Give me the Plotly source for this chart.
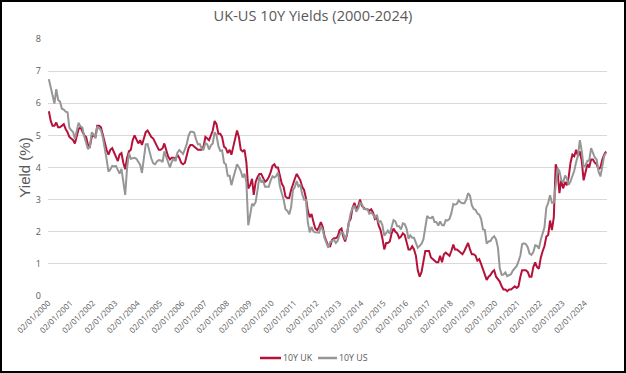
import pandas as pd
import plotly.graph_objects as go

# Monthly 10Y yields (%), Jan 2000 - Dec 2024
uk_10y = [
    5.75, 5.45, 5.30, 5.30, 5.40, 5.25, 5.25, 5.30, 5.35, 5.20, 5.10, 4.95,  # 2000
    4.90, 4.85, 4.75, 5.00, 5.20, 5.25, 5.15, 5.00, 4.95, 4.70, 4.65, 4.95,  # 2001
    5.00, 4.95, 5.30, 5.30, 5.25, 5.00, 4.85, 4.55, 4.40, 4.55, 4.60, 4.45,  # 2002
    4.30, 4.20, 4.40, 4.45, 4.15, 3.95, 4.30, 4.50, 4.55, 4.85, 5.00, 4.85,  # 2003
    4.75, 4.85, 4.70, 4.90, 5.10, 5.15, 5.05, 4.95, 4.90, 4.80, 4.65, 4.55,  # 2004
    4.55, 4.60, 4.75, 4.55, 4.35, 4.25, 4.30, 4.30, 4.25, 4.40, 4.30, 4.15,  # 2005
    4.10, 4.15, 4.35, 4.60, 4.70, 4.70, 4.65, 4.60, 4.55, 4.55, 4.55, 4.65,  # 2006
    4.95, 4.90, 4.85, 5.00, 5.15, 5.45, 5.35, 5.05, 5.05, 4.95, 4.65, 4.60,  # 2007
    4.45, 4.55, 4.40, 4.65, 4.90, 5.15, 4.95, 4.55, 4.50, 4.55, 4.15, 3.35,  # 2008
    3.45, 3.65, 3.15, 3.55, 3.70, 3.80, 3.80, 3.65, 3.55, 3.60, 3.70, 3.85,  # 2009
    4.05, 4.10, 4.00, 4.00, 3.70, 3.50, 3.40, 3.10, 3.05, 3.05, 3.30, 3.50,  # 2010
    3.65, 3.80, 3.70, 3.60, 3.40, 3.30, 3.05, 2.65, 2.45, 2.55, 2.30, 2.10,  # 2011
    2.05, 2.15, 2.30, 2.15, 1.85, 1.70, 1.55, 1.55, 1.75, 1.80, 1.80, 1.85,  # 2012
    2.05, 2.10, 1.85, 1.70, 1.90, 2.30, 2.40, 2.75, 2.90, 2.70, 2.80, 3.00,  # 2013
    2.80, 2.75, 2.70, 2.70, 2.65, 2.70, 2.60, 2.40, 2.45, 2.20, 2.05, 1.80,  # 2014
    1.45, 1.65, 1.65, 1.70, 1.95, 2.10, 2.00, 1.95, 1.80, 1.85, 1.95, 1.90,  # 2015
    1.70, 1.45, 1.45, 1.55, 1.45, 1.25, 0.80, 0.60, 0.75, 1.05, 1.40, 1.40,  # 2016
    1.40, 1.20, 1.15, 1.10, 1.05, 1.05, 1.25, 1.05, 1.30, 1.35, 1.30, 1.25,  # 2017
    1.40, 1.60, 1.45, 1.45, 1.40, 1.35, 1.30, 1.40, 1.55, 1.65, 1.45, 1.30,  # 2018
    1.30, 1.25, 1.10, 1.15, 1.00, 0.85, 0.70, 0.50, 0.60, 0.65, 0.75, 0.80,  # 2019
    0.60, 0.50, 0.45, 0.30, 0.20, 0.20, 0.15, 0.20, 0.20, 0.25, 0.30, 0.25,  # 2020
    0.30, 0.60, 0.80, 0.80, 0.80, 0.75, 0.60, 0.60, 0.90, 1.05, 0.90, 0.85,  # 2021
    1.20, 1.40, 1.55, 1.85, 1.90, 2.35, 2.05, 2.45, 4.10, 3.90, 3.20, 3.60,  # 2022
    3.35, 3.55, 3.45, 3.70, 4.15, 4.40, 4.35, 4.55, 4.35, 4.50, 4.20, 3.60,  # 2023
    3.85, 4.10, 4.00, 4.25, 4.25, 4.15, 4.10, 3.95, 4.00, 4.25, 4.40, 4.50,  # 2024
]

us_10y = [
    6.75, 6.52, 6.26, 5.99, 6.44, 6.10, 6.05, 5.83, 5.80, 5.74, 5.72, 5.24,  # 2000
    5.16, 5.10, 4.89, 5.14, 5.39, 5.28, 5.24, 4.97, 4.73, 4.57, 4.65, 5.09,  # 2001
    5.04, 4.91, 5.28, 5.21, 5.16, 4.93, 4.65, 4.26, 3.87, 3.94, 4.05, 4.03,  # 2002
    4.05, 3.90, 3.81, 3.96, 3.57, 3.15, 3.98, 4.45, 4.27, 4.29, 4.30, 4.27,  # 2003
    4.15, 4.08, 3.83, 4.35, 4.72, 4.73, 4.50, 4.28, 4.13, 4.10, 4.19, 4.23,  # 2004
    4.22, 4.17, 4.50, 4.34, 4.14, 4.00, 4.18, 4.26, 4.20, 4.46, 4.54, 4.47,  # 2005
    4.42, 4.57, 4.72, 4.99, 5.11, 5.11, 5.09, 4.88, 4.72, 4.73, 4.60, 4.56,  # 2006
    4.76, 4.72, 4.56, 4.69, 4.75, 5.10, 5.00, 4.67, 4.52, 4.53, 4.15, 4.10,  # 2007
    3.74, 3.74, 3.45, 3.68, 3.88, 4.10, 4.01, 3.89, 3.69, 3.81, 3.53, 2.20,  # 2008
    2.52, 2.87, 2.82, 2.93, 3.29, 3.72, 3.56, 3.59, 3.40, 3.39, 3.40, 3.59,  # 2009
    3.73, 3.69, 3.73, 3.85, 3.42, 3.20, 3.01, 2.70, 2.65, 2.54, 2.76, 3.29,  # 2010
    3.39, 3.58, 3.41, 3.46, 3.17, 3.00, 3.00, 2.30, 1.98, 2.15, 2.01, 1.98,  # 2011
    1.97, 1.97, 2.17, 2.05, 1.80, 1.62, 1.50, 1.68, 1.72, 1.75, 1.65, 1.72,  # 2012
    1.91, 1.98, 1.96, 1.76, 1.93, 2.30, 2.58, 2.74, 2.81, 2.62, 2.72, 2.90,  # 2013
    2.86, 2.71, 2.72, 2.71, 2.56, 2.60, 2.54, 2.42, 2.53, 2.30, 2.33, 2.21,  # 2014
    1.88, 1.98, 2.04, 1.94, 2.20, 2.36, 2.32, 2.17, 2.17, 2.07, 2.26, 2.24,  # 2015
    2.09, 1.78, 1.89, 1.81, 1.81, 1.64, 1.50, 1.56, 1.63, 1.76, 2.14, 2.49,  # 2016
    2.43, 2.42, 2.48, 2.30, 2.30, 2.19, 2.32, 2.21, 2.20, 2.36, 2.35, 2.40,  # 2017
    2.58, 2.86, 2.84, 2.87, 2.98, 2.91, 2.89, 2.89, 3.00, 3.20, 3.12, 2.83,  # 2018
    2.71, 2.68, 2.57, 2.53, 2.40, 2.07, 2.06, 1.63, 1.70, 1.71, 1.81, 1.86,  # 2019
    1.76, 1.50, 0.87, 0.66, 0.67, 0.73, 0.62, 0.65, 0.68, 0.79, 0.87, 0.93,  # 2020
    1.08, 1.26, 1.61, 1.64, 1.62, 1.52, 1.32, 1.28, 1.37, 1.58, 1.56, 1.47,  # 2021
    1.76, 1.93, 2.13, 2.75, 2.90, 3.14, 2.90, 2.90, 3.52, 3.98, 3.89, 3.62,  # 2022
    3.53, 3.75, 3.66, 3.46, 3.57, 3.75, 3.90, 4.17, 4.38, 4.85, 4.50, 4.02,  # 2023
    4.06, 4.21, 4.21, 4.60, 4.48, 4.31, 4.25, 3.87, 3.72, 4.10, 4.36, 4.45,  # 2024
]

series_names = ["10Y UK", "10Y US"]

dates = pd.date_range(start="2000-01-01", periods=len(uk_10y), freq="MS") + pd.Timedelta(days=14)

tick_years = list(range(2000, 2025))
tick_dates = [pd.Timestamp(year=y, month=1, day=2) for y in tick_years]
tick_labels = [f"02/01/{y}" for y in tick_years]

y_ticks = [0, 1, 2, 3, 4, 5, 6, 7, 8]

UK_RED = "#B5123B"
US_GREY = "#969696"
TXT = "#595959"

fig = go.Figure()
fig.add_trace(go.Scatter(x=dates, y=uk_10y, mode="lines", name=series_names[0],
                         line=dict(color=UK_RED, width=2)))
fig.add_trace(go.Scatter(x=dates, y=us_10y, mode="lines", name=series_names[1],
                         line=dict(color=US_GREY, width=2)))

W, H = 626, 373
L, R, T, B = 48, 19, 39, 77
pw, ph = W - L - R, H - T - B


def px_x(px):
    return (px - L) / pw


def px_y(py):
    return (T + ph - py) / ph


fig.update_layout(
    width=W, height=H,
    margin=dict(l=L, r=R, t=T, b=B, autoexpand=False),
    paper_bgcolor="white", plot_bgcolor="white",
    font=dict(family="Open Sans, DejaVu Sans, sans-serif", color=TXT),
    title=dict(text="UK-US 10Y Yields (2000-2024)", x=0.5, xanchor="center",
               y=1 - 16 / H, yanchor="middle", yref="container",
               font=dict(size=14.6, color=TXT, family="Open Sans, sans-serif")),
    showlegend=False,
    xaxis=dict(type="date", range=["2000-01-01", "2024-12-31"],
               tickmode="array", tickvals=tick_dates, ticktext=tick_labels,
               tickangle=-45, tickfont=dict(size=8, color=TXT),
               showgrid=False, zeroline=False, showline=False, ticks="",
               automargin=False),
    yaxis=dict(range=[0, 8], tickmode="array", tickvals=y_ticks,
               tickfont=dict(size=9, color=TXT),
               showgrid=True, gridcolor="#D9D9D9", gridwidth=1,
               zeroline=False, showline=False, ticks="", ticklabelstandoff=6,
               automargin=False,
               title=dict(text="Yield (%)", standoff=1,
                          font=dict(size=15, color=TXT, family="Liberation Sans, Arial, sans-serif"))),
)

# legend drawn as line keys + labels (bottom centre)
legend_keys = [(260, 281, 283, UK_RED), (318, 337, 339, US_GREY)]
for name, (x0, x1, xt, col) in zip(series_names, legend_keys):
    fig.add_shape(type="line", xref="paper", yref="paper",
                  x0=px_x(x0), x1=px_x(x1), y0=px_y(358), y1=px_y(358),
                  line=dict(color=col, width=2.5))
    fig.add_annotation(text=name, xref="paper", yref="paper",
                       x=px_x(xt), y=px_y(358), xanchor="left", yanchor="middle",
                       showarrow=False, xshift=-2,
                       font=dict(size=8.8, color=TXT, family="Open Sans, sans-serif"))

# outer frame of the picture
fig.add_shape(type="rect", xref="paper", yref="paper",
              x0=px_x(1), x1=px_x(W - 1), y0=px_y(H - 1), y1=px_y(1),
              line=dict(color="black", width=2), fillcolor="rgba(0,0,0,0)", layer="above")

fig.write_html("out.html", config={"displayModeBar": False},
               post_script="document.body.style.margin='0';")
